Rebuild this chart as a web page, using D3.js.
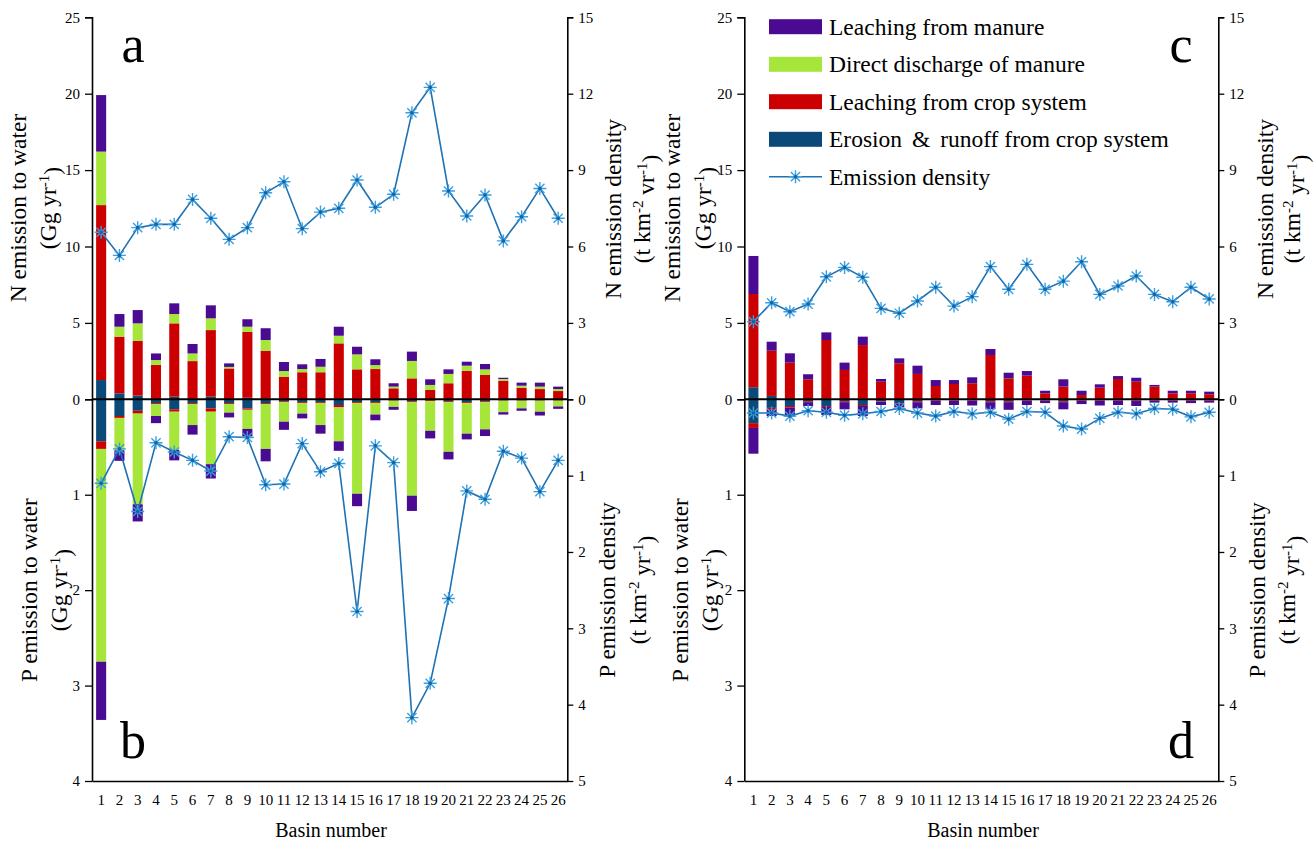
<!DOCTYPE html>
<html><head><meta charset="utf-8">
<script src="https://cdn.jsdelivr.net/npm/d3@7"></script>
<style>
body{margin:0;background:#fff}
svg{display:block}
svg text{font-family:"Liberation Serif","Tinos","Times New Roman",Times,"DejaVu Serif",serif !important;fill:#000}
</style>
</head><body>
<svg id="chart" width="1315" height="843"></svg>
<script>
// ---------- categories ----------
const basins = ["1","2","3","4","5","6","7","8","9","10","11","12","13","14","15","16","17","18","19","20","21","22","23","24","25","26"];

// ---------- panel a : N emission (Gg/yr) ----------
const nErosionA   = [1.26,0.39,0.24,0.02,0.17,0.03,0.17,0.02,0.10,0.07,0.02,0.02,0.03,0.05,0.04,0.04,0.02,0.03,0.02,0.02,0.03,0.03,0.02,0.02,0.02,0.02];
const nCropA      = [11.45,3.71,3.58,2.23,4.80,2.47,4.36,2.00,4.32,3.11,1.46,1.75,1.74,3.61,1.92,1.94,0.70,1.34,0.59,1.03,1.84,1.56,1.20,0.74,0.65,0.52];
const nDischargeA = [3.50,0.65,1.15,0.32,0.61,0.50,0.77,0.10,0.33,0.70,0.37,0.21,0.36,0.50,0.98,0.26,0.11,1.14,0.33,0.61,0.33,0.37,0.11,0.13,0.16,0.13];
const nManureA    = [3.70,0.83,0.87,0.43,0.70,0.62,0.85,0.23,0.49,0.77,0.59,0.31,0.51,0.59,0.50,0.38,0.22,0.61,0.37,0.30,0.26,0.35,0.08,0.20,0.26,0.16];
const nDensityA   = [6.56,5.65,6.74,6.87,6.87,7.85,7.11,6.28,6.74,8.11,8.54,6.70,7.35,7.50,8.61,7.54,8.05,11.25,12.25,8.18,7.20,8.02,6.22,7.17,8.28,7.11];

// ---------- panel b : P emission (Gg/yr) ----------
const pErosionB   = [0.44,0.175,0.12,0.04,0.105,0.04,0.095,0.04,0.095,0.04,0.02,0.03,0.03,0.06,0.03,0.03,0.01,0.02,0.01,0.02,0.03,0.02,0.01,0.01,0.01,0.01];
const pCropB      = [0.08,0.02,0.03,0.01,0.025,0.01,0.035,0.01,0.015,0.01,0.01,0.01,0.01,0.025,0.01,0.01,0.005,0.01,0.01,0.01,0.01,0.01,0.005,0.005,0.005,0.005];
const pDischargeB = [2.23,0.34,0.95,0.125,0.40,0.22,0.55,0.09,0.20,0.47,0.205,0.11,0.23,0.355,0.95,0.12,0.065,0.98,0.31,0.52,0.32,0.285,0.12,0.08,0.115,0.06];
const pManureB    = [0.61,0.11,0.18,0.075,0.11,0.10,0.15,0.05,0.08,0.13,0.085,0.05,0.09,0.10,0.13,0.06,0.03,0.16,0.08,0.08,0.06,0.07,0.025,0.025,0.04,0.025];
const pDensityB   = [1.10,0.65,1.47,0.57,0.69,0.80,0.94,0.49,0.50,1.12,1.11,0.58,0.95,0.84,2.78,0.61,0.83,4.17,3.72,2.61,1.20,1.31,0.68,0.77,1.21,0.80];

// ---------- panel c : N emission (Gg/yr) ----------
const nErosionC   = [0.79,0.22,0.07,0.02,0.05,0.03,0.05,0.02,0.03,0.02,0.02,0.02,0.02,0.03,0.02,0.02,0.01,0.02,0.01,0.01,0.02,0.02,0.01,0.01,0.01,0.01];
const nCropC      = [6.10,2.96,2.33,1.29,3.83,1.89,3.50,1.13,2.33,1.64,0.85,0.98,1.03,2.87,1.35,1.53,0.38,0.81,0.27,0.75,1.31,1.13,0.82,0.38,0.38,0.32];
const nDischargeC = [0,0,0,0,0,0,0,0,0,0,0,0,0,0,0,0,0,0,0,0,0,0,0,0,0,0];
const nManureC    = [2.49,0.59,0.61,0.33,0.50,0.48,0.55,0.18,0.32,0.54,0.39,0.26,0.39,0.39,0.37,0.30,0.17,0.48,0.28,0.22,0.19,0.26,0.11,0.17,0.17,0.17];
const nDensityC   = [3.05,3.79,3.44,3.74,4.81,5.18,4.79,3.57,3.38,3.86,4.40,3.66,4.03,5.21,4.32,5.30,4.32,4.64,5.40,4.12,4.45,4.84,4.12,3.83,4.40,3.94];

// ---------- panel d : P emission (Gg/yr) ----------
const pErosionD   = [0.25,0.09,0.07,0.02,0.07,0.02,0.06,0.02,0.04,0.02,0.01,0.01,0.01,0.02,0.02,0.01,0.01,0.02,0.01,0.01,0.01,0.01,0.01,0.01,0.01,0.01];
const pCropD      = [0.05,0.02,0.015,0.01,0.01,0.01,0.01,0.005,0.005,0.01,0.005,0.005,0.005,0.01,0.01,0.005,0.005,0.01,0.005,0.005,0.005,0.005,0.005,0.005,0.005,0.005];
const pDischargeD = [0,0,0,0,0,0,0,0,0,0,0,0,0,0,0,0,0,0,0,0,0,0,0,0,0,0];
const pManureD    = [0.27,0.065,0.095,0.04,0.085,0.075,0.105,0.035,0.04,0.065,0.045,0.045,0.05,0.075,0.08,0.045,0.025,0.075,0.035,0.05,0.045,0.055,0.02,0.02,0.025,0.02];
const pDensityD   = [0.18,0.18,0.22,0.15,0.17,0.21,0.19,0.16,0.12,0.18,0.22,0.16,0.19,0.17,0.26,0.16,0.17,0.35,0.39,0.25,0.17,0.19,0.12,0.13,0.23,0.17];

// ---------- ticks ----------
const nTicks  = [0,5,10,15,20,25];
const pTicks  = [1,2,3,4];
const ndTicks = [0,3,6,9,12,15];
const pdTicks = [1,2,3,4,5];

// ---------- legend ----------
const seriesNames = ["Leaching from manure","Direct discharge of manure","Leaching from crop system","Erosion & runoff from crop system"];
const seriesKeys  = ["manure","discharge","crop","erosion"];
const colors = {manure:"#4b0a92", discharge:"#a6e53a", crop:"#cc0000", erosion:"#0b4a78"};
const lineColor = "#1f72b4", starColor = "#3a9fe0", dotColor = "#17629f";

// ---------- layout ----------
const FONT = '"Liberation Serif","Tinos","Times New Roman",Times,"DejaVu Serif",serif';
const yZero = 399.3, yTop = 17.3, yBot = 781;
const yN  = d3.scaleLinear([0,25],[yZero,yTop]);
const yP  = d3.scaleLinear([0,4],[yZero,yBot]);
const yND = d3.scaleLinear([0,15],[yZero,yTop]);
const yPD = d3.scaleLinear([0,5],[yZero,yBot]);

const panels = [
  {x0:92, x1:567.3,
   n:{erosion:nErosionA,crop:nCropA,discharge:nDischargeA,manure:nManureA}, nd:nDensityA,
   p:{erosion:pErosionB,crop:pCropB,discharge:pDischargeB,manure:pManureB}, pd:pDensityB,
   letters:["a","b"], letterX:133,
   tx:{n1:18,n2:48,p1:29,p2:59,rn1:613,rn2:642,rp1:607,rp2:638}, rnUnit:"vr", basinX:331},
  {x0:744.3, x1:1218.3,
   n:{erosion:nErosionC,crop:nCropC,discharge:nDischargeC,manure:nManureC}, nd:nDensityC,
   p:{erosion:pErosionD,crop:pCropD,discharge:pDischargeD,manure:pManureD}, pd:pDensityD,
   letters:["c","d"], letterX:1181,
   tx:{n1:672,n2:703,p1:680,p2:710,rn1:1265,rn2:1292,rp1:1257,rp2:1287}, rnUnit:"yr", basinX:983}
];

const svg = d3.select("#chart").attr("font-family", FONT);
const stackOrder = ["erosion","crop","discharge","manure"];
const starPath = "M-6.5,0H6.5M0,-6.5V6.5M-4.6,-4.6L4.6,4.6M-4.6,4.6L4.6,-4.6";

function rotText(x, y, build) {
  const t = svg.append("text").attr("transform",`translate(${x},${y}) rotate(-90)`)
    .attr("text-anchor","middle").attr("dy","0.35em").attr("font-family",FONT).style("font-size","23.5px");
  build(t);
  return t;
}
function supLabel(t, parts) {
  let shifted = false;
  parts.forEach(([s,sup])=>{
    const ts = t.append("tspan").text(s);
    if (sup && !shifted) { ts.attr("dy","-0.45em").style("font-size","15px"); shifted = true; }
    else if (sup) { ts.style("font-size","15px"); }
    else if (shifted) { ts.attr("dy","0.45em"); shifted = false; }
  });
}

panels.forEach(P => {
  const x = d3.scaleBand(basins,[P.x0,P.x1]).paddingInner(0.45).paddingOuter(0.225);
  const g = svg.append("g");

  const rows = basins.map((b,i)=>{const r={basin:b}; stackOrder.forEach(k=>r[k]=P.n[k][i]); return r;});
  const rowsP = basins.map((b,i)=>{const r={basin:b}; stackOrder.forEach(k=>r[k]=P.p[k][i]); return r;});
  const stN = d3.stack().keys(stackOrder)(rows);
  const stP = d3.stack().keys(stackOrder)(rowsP);

  stN.forEach(layer => {
    g.append("g").selectAll("rect").data(layer).join("rect")
      .attr("x", d=>x(d.data.basin)).attr("width", x.bandwidth())
      .attr("y", d=>yN(d[1])).attr("height", d=>Math.max(0, yN(d[0])-yN(d[1])))
      .attr("fill", colors[layer.key]);
  });
  stP.forEach(layer => {
    g.append("g").selectAll("rect").data(layer).join("rect")
      .attr("x", d=>x(d.data.basin)).attr("width", x.bandwidth())
      .attr("y", d=>yP(d[0])).attr("height", d=>Math.max(0, yP(d[1])-yP(d[0])))
      .attr("fill", colors[layer.key]);
  });

  // zero line
  g.append("line").attr("x1",P.x0).attr("x2",P.x1).attr("y1",yZero).attr("y2",yZero)
    .attr("stroke","#000").attr("stroke-width",2);

  // axes
  const fmt = d3.format("d");
  const axStyle = a => {
    a.attr("font-family", FONT).attr("font-size", 15);
    a.select(".domain").attr("stroke","#000").attr("stroke-width",1.6);
    a.selectAll(".tick line").attr("stroke","#000").attr("stroke-width",1.3);
    a.selectAll(".tick text").attr("font-family",FONT).style("font-size","15px").attr("fill","#000");
  };
  g.append("g").attr("transform",`translate(${P.x0},0)`)
    .call(d3.axisLeft(yN).tickValues(nTicks).tickFormat(fmt).tickSize(7).tickSizeOuter(7).tickPadding(5)).call(axStyle);
  g.append("g").attr("transform",`translate(${P.x0},0)`)
    .call(d3.axisLeft(yP).tickValues(pTicks).tickFormat(fmt).tickSize(7).tickSizeOuter(0).tickPadding(5)).call(axStyle);
  g.append("g").attr("transform",`translate(${P.x1},0)`)
    .call(d3.axisRight(yND).tickValues(ndTicks).tickFormat(fmt).tickSize(6).tickSizeOuter(6).tickPadding(5)).call(axStyle);
  g.append("g").attr("transform",`translate(${P.x1},0)`)
    .call(d3.axisRight(yPD).tickValues(pdTicks).tickFormat(fmt).tickSize(6).tickSizeOuter(0).tickPadding(5)).call(axStyle);
  g.append("g").attr("transform",`translate(0,${yBot})`)
    .call(d3.axisBottom(x).tickSize(0).tickPadding(13)).call(axStyle);

  // density lines
  const cx = b => x(b)+x.bandwidth()/2;
  const lineN = d3.line().x((d,i)=>cx(basins[i])).y(d=>yND(d));
  const lineP = d3.line().x((d,i)=>cx(basins[i])).y(d=>yPD(d));
  [[P.nd,lineN,yND],[P.pd,lineP,yPD]].forEach(([data,ln,ys])=>{
    g.append("path").attr("d",ln(data)).attr("fill","none").attr("stroke",lineColor).attr("stroke-width",1.6);
    const m = g.append("g").selectAll("g").data(data).join("g")
      .attr("transform",(d,i)=>`translate(${cx(basins[i])},${ys(d)})`);
    m.append("path").attr("d",starPath).attr("stroke",starColor).attr("stroke-width",1.4).attr("fill","none");
    m.append("circle").attr("r",1.8).attr("fill",dotColor);
  });

  // panel letters
  svg.append("text").attr("x",P.letterX).attr("y",62).attr("text-anchor","middle").style("font-size","52px").text(P.letters[0]);
  svg.append("text").attr("x",P.letterX).attr("y",758).attr("text-anchor","middle").style("font-size","52px").text(P.letters[1]);

  // axis titles
  rotText(P.tx.n1, 208, t=>t.text("N emission to water"));
  rotText(P.tx.n2, 208, t=>supLabel(t,[["(Gg yr",0],["-1",1],[")",0]]));
  rotText(P.tx.p1, 590, t=>t.text("P emission to water"));
  rotText(P.tx.p2, 590, t=>supLabel(t,[["(Gg yr",0],["-1",1],[")",0]]));
  rotText(P.tx.rn1, 209, t=>t.text("N emission density"));
  rotText(P.tx.rn2, 209, t=>supLabel(t,[["(t km",0],["-2",1],[" "+P.rnUnit,0],["-1",1],[")",0]]));
  rotText(P.tx.rp1, 590, t=>t.text("P emission density"));
  rotText(P.tx.rp2, 590, t=>supLabel(t,[["(t km",0],["-2",1],[" yr",0],["-1",1],[")",0]]));

  svg.append("text").attr("x",P.basinX).attr("y",837).attr("text-anchor","middle").style("font-size","20px").text("Basin number");
});

// ---------- legend ----------
const leg = svg.append("g");
const legY = [26.7,64.3,101.7,139.3,176.7];
seriesKeys.forEach((k,i)=>{
  leg.append("rect").attr("x",769).attr("y",legY[i]-7.5).attr("width",53).attr("height",15).attr("fill",colors[k]);
  const t = leg.append("text").attr("x",829).attr("y",legY[i]+8).style("font-size","23.5px");
  if (k==="erosion") {
    t.append("tspan").text("Erosion ");
    t.append("tspan").attr("dx",4).text("&");
    t.append("tspan").attr("dx",4).text(" runoff from crop system");
  } else t.text(seriesNames[i]);
});
leg.append("line").attr("x1",769).attr("x2",822).attr("y1",legY[4]).attr("y2",legY[4]).attr("stroke",lineColor).attr("stroke-width",1.6);
leg.append("path").attr("transform",`translate(795.5,${legY[4]})`).attr("d",starPath).attr("stroke",starColor).attr("stroke-width",1.4).attr("fill","none");
leg.append("circle").attr("cx",795.5).attr("cy",legY[4]).attr("r",1.8).attr("fill",dotColor);
leg.append("text").attr("x",829).attr("y",legY[4]+8).style("font-size","23.5px").text("Emission density");
</script>
</body></html>
